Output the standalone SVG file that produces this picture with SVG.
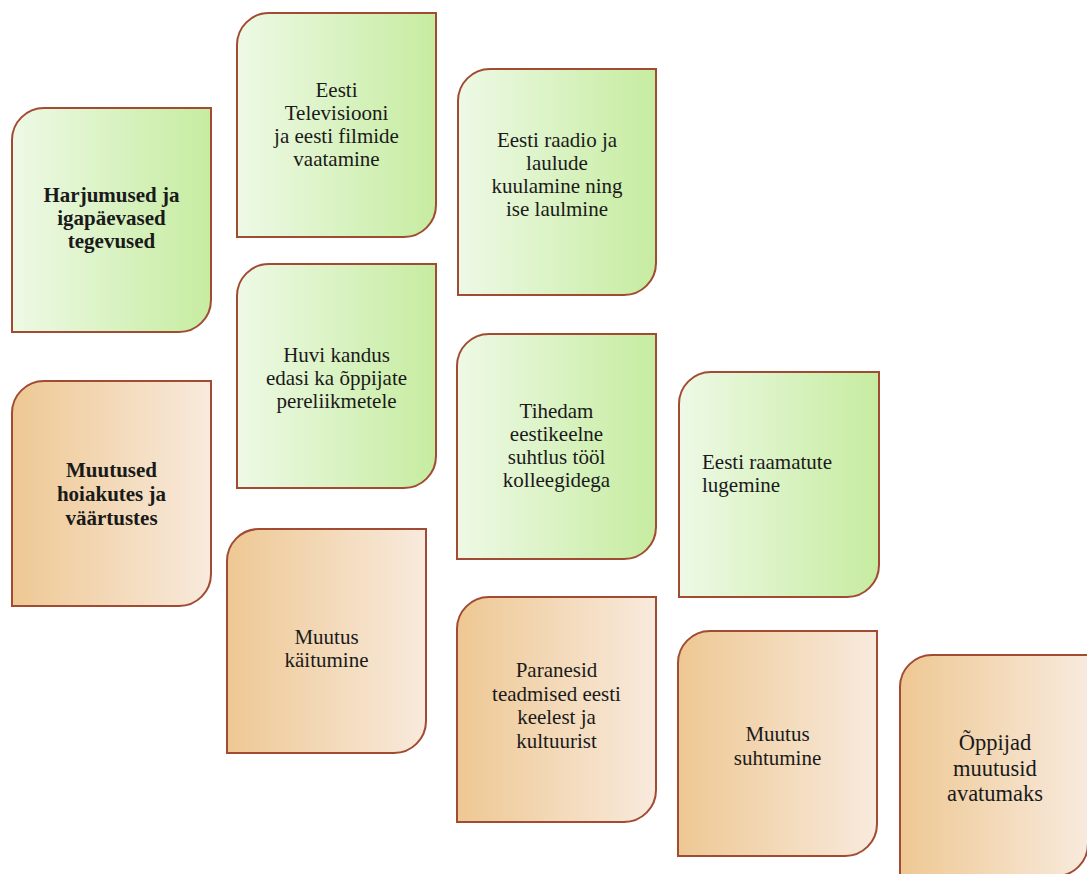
<svg xmlns="http://www.w3.org/2000/svg" width="1087" height="874" viewBox="0 0 1087 874">
<defs>
<linearGradient id="gGreen" x1="0" y1="0" x2="1" y2="0">
<stop offset="0" stop-color="#eef9e6"/>
<stop offset="1" stop-color="#c6eca0"/>
</linearGradient>
<linearGradient id="gOrange" x1="0" y1="0" x2="1" y2="0">
<stop offset="0" stop-color="#eec893"/>
<stop offset="1" stop-color="#f8eadd"/>
</linearGradient>
<style>
.box{stroke:#a24b33;stroke-width:2}
.green{fill:url(#gGreen)}
.orange{fill:url(#gOrange)}
text{font-family:"Liberation Serif","Times New Roman",serif;font-size:21px;fill:#1a1a1a;text-anchor:middle}
.b{font-weight:bold}
.l{text-anchor:start}
.big{font-size:22.5px}
</style>
</defs>
<rect width="1087" height="874" fill="#ffffff"/>
<g id="connectors"/>
<g id="n-harjumused">
<path class="box green" d="M44,108 H211 V300 A32,32 0 0 1 179,332 H12 V140 A32,32 0 0 1 44,108 Z"/>
<text class="b" x="111.5" y="202">Harjumused ja</text>
<text class="b" x="111.5" y="225">igapäevased</text>
<text class="b" x="111.5" y="248">tegevused</text>
</g>
<g id="n-muutused">
<path class="box orange" d="M44,381 H211 V574 A32,32 0 0 1 179,606 H12 V413 A32,32 0 0 1 44,381 Z"/>
<text class="b" x="111.5" y="477">Muutused</text>
<text class="b" x="111.5" y="501">hoiakutes ja</text>
<text class="b" x="111.5" y="525">väärtustes</text>
</g>
<g id="n-televisioon">
<path class="box green" d="M269,13 H436 V205 A32,32 0 0 1 404,237 H237 V45 A32,32 0 0 1 269,13 Z"/>
<text x="336.5" y="97">Eesti</text>
<text x="336.5" y="120">Televisiooni</text>
<text x="336.5" y="143">ja eesti filmide</text>
<text x="336.5" y="166">vaatamine</text>
</g>
<g id="n-raadio">
<path class="box green" d="M490,69 H656 V263 A32,32 0 0 1 624,295 H458 V101 A32,32 0 0 1 490,69 Z"/>
<text x="557" y="147">Eesti raadio ja</text>
<text x="557" y="170">laulude</text>
<text x="557" y="193">kuulamine ning</text>
<text x="557" y="216">ise laulmine</text>
</g>
<g id="n-huvi">
<path class="box green" d="M269,264 H436 V456 A32,32 0 0 1 404,488 H237 V296 A32,32 0 0 1 269,264 Z"/>
<text x="336.5" y="362">Huvi kandus</text>
<text x="336.5" y="385">edasi ka õppijate</text>
<text x="336.5" y="408">pereliikmetele</text>
</g>
<g id="n-tihedam">
<path class="box green" d="M489,334 H656 V527 A32,32 0 0 1 624,559 H457 V366 A32,32 0 0 1 489,334 Z"/>
<text x="556.5" y="418">Tihedam</text>
<text x="556.5" y="441">eestikeelne</text>
<text x="556.5" y="464">suhtlus tööl</text>
<text x="556.5" y="487">kolleegidega</text>
</g>
<g id="n-raamatud">
<path class="box green" d="M711,372 H879 V565 A32,32 0 0 1 847,597 H679 V404 A32,32 0 0 1 711,372 Z"/>
<text class="l" x="702" y="469">Eesti raamatute</text>
<text class="l" x="702" y="492">lugemine</text>
</g>
<g id="n-kaitumine">
<path class="box orange" d="M259,529 H426 V721 A32,32 0 0 1 394,753 H227 V561 A32,32 0 0 1 259,529 Z"/>
<text x="326.5" y="644">Muutus</text>
<text x="326.5" y="667">käitumine</text>
</g>
<g id="n-paranesid">
<path class="box orange" d="M489,597 H656 V790 A32,32 0 0 1 624,822 H457 V629 A32,32 0 0 1 489,597 Z"/>
<text x="556.5" y="677">Paranesid</text>
<text x="556.5" y="701">teadmised eesti</text>
<text x="556.5" y="724">keelest ja</text>
<text x="556.5" y="748">kultuurist</text>
</g>
<g id="n-suhtumine">
<path class="box orange" d="M710,631 H877 V824 A32,32 0 0 1 845,856 H678 V663 A32,32 0 0 1 710,631 Z"/>
<text x="777.5" y="741">Muutus</text>
<text x="777.5" y="765">suhtumine</text>
</g>
<g id="n-oppijad">
<path class="box orange" d="M932,655 H1088 V844 A32,32 0 0 1 1056,876 H900 V687 A32,32 0 0 1 932,655 Z"/>
<text class="big" x="995" y="750">Õppijad</text>
<text class="big" x="995" y="776">muutusid</text>
<text class="big" x="995" y="801">avatumaks</text>
</g>
</svg>
